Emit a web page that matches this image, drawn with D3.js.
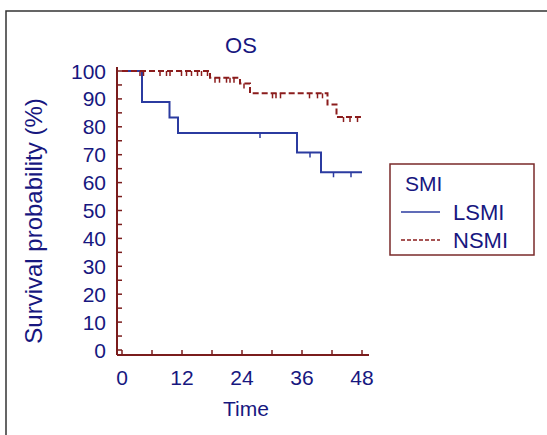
<!DOCTYPE html>
<html>
<head>
<meta charset="utf-8">
<script src="https://cdn.jsdelivr.net/npm/d3@7"></script>
<style>
  body { margin: 0; background: #fff; }
  text { font-family: "Liberation Sans", Arial, sans-serif; }
</style>
</head>
<body>
<script>
// Kaplan-Meier steps
var lsmiTime   = [0, 4, 9.5, 11.2, 35, 39.8, 48];
var lsmiSurv   = [100, 88.9, 83.3, 77.8, 70.8, 63.7, 63.7];
var lsmiCensor = [27.6, 37.6, 42.3, 45.8];

var nsmiTime   = [0, 17.6, 23.6, 25.6, 41.1, 42.9, 48];
var nsmiSurv   = [100, 97.6, 95.5, 92, 88, 83.5, 83.5];
var nsmiCensor = [3.6, 4.3, 7.6, 8.9, 9.6, 11.9, 12.9, 13.9, 15.1, 15.9, 17.1,
                  18.6, 19.5, 20.9, 21.6, 22.4, 24.4, 30.1, 30.8, 31.7, 37.5,
                  39.1, 40.1, 44.3, 45.6, 47.1];

var xTicks = [0, 12, 24, 36, 48];
var yTicks = [0, 10, 20, 30, 40, 50, 60, 70, 80, 90, 100];

var W = 547, H = 435;
var AXIS = "#7a1c1c", TEXT = "#17177f", BLUE = "#2b3ba0", RED = "#8b1c1c";

var svg = d3.select("body").append("svg").attr("width", W).attr("height", H);

// outer frame
svg.append("rect")
  .attr("x", 6).attr("y", 11).attr("width", W + 10).attr("height", H + 10)
  .attr("fill", "none").attr("stroke", "#333").attr("stroke-width", 1.5);

var x = d3.scaleLinear().domain([0, 48]).range([122, 362]);
var y = d3.scaleLinear().domain([0, 100]).range([350, 71]);

var axX = 117, axY = 355;

// axes lines
svg.append("line").attr("x1", axX).attr("x2", axX).attr("y1", 67).attr("y2", axY)
  .attr("stroke", AXIS).attr("stroke-width", 2);
svg.append("line").attr("x1", axX).attr("x2", 369).attr("y1", axY).attr("y2", axY)
  .attr("stroke", AXIS).attr("stroke-width", 2);

// y ticks (major + minor, pointing inward)
svg.append("g").selectAll("line")
  .data(d3.range(0, 101, 5))
  .enter().append("line")
  .attr("x1", axX).attr("x2", axX + 5)
  .attr("y1", d => y(d)).attr("y2", d => y(d))
  .attr("stroke", AXIS).attr("stroke-width", 1.5);

svg.append("g").selectAll("text")
  .data(yTicks)
  .enter().append("text")
  .attr("x", 106).attr("y", d => y(d))
  .attr("text-anchor", "end").attr("dominant-baseline", "central")
  .attr("fill", TEXT).style("font-size", "21px")
  .text(d => d);

// x ticks
svg.append("g").selectAll("line")
  .data(d3.range(0, 49, 6))
  .enter().append("line")
  .attr("x1", d => x(d)).attr("x2", d => x(d))
  .attr("y1", axY).attr("y2", axY - 5)
  .attr("stroke", AXIS).attr("stroke-width", 1.5);

svg.append("g").selectAll("text")
  .data(xTicks)
  .enter().append("text")
  .attr("x", d => x(d)).attr("y", 385)
  .attr("text-anchor", "middle")
  .attr("fill", TEXT).style("font-size", "21px")
  .text(d => d);

// titles
svg.append("text").attr("x", 241).attr("y", 53).attr("text-anchor", "middle")
  .attr("fill", TEXT).style("font-size", "22px").text("OS");
svg.append("text").attr("x", 246).attr("y", 416).attr("text-anchor", "middle")
  .attr("fill", TEXT).style("font-size", "21px").text("Time");
svg.append("text")
  .attr("transform", "translate(42,221) rotate(-90)")
  .attr("text-anchor", "middle")
  .attr("fill", TEXT).style("font-size", "24px").text("Survival probability (%)");

// curves
var line = d3.line().curve(d3.curveStepAfter)
  .x(d => x(d[0])).y(d => y(d[1]));

function survAt(times, surv, t) {
  var i = d3.bisectRight(times, t) - 1;
  return surv[Math.max(0, i)];
}

function drawCurve(times, surv, censor, color, dash) {
  var g = svg.append("g");
  g.append("path")
    .attr("d", line(d3.zip(times, surv)))
    .attr("fill", "none").attr("stroke", color).attr("stroke-width", 2)
    .attr("stroke-dasharray", dash);
  g.selectAll("line")
    .data(censor)
    .enter().append("line")
    .attr("x1", d => x(d)).attr("x2", d => x(d))
    .attr("y1", d => y(survAt(times, surv, d)))
    .attr("y2", d => y(survAt(times, surv, d)) + 5)
    .attr("stroke", color).attr("stroke-width", 1.5);
}

drawCurve(lsmiTime, lsmiSurv, lsmiCensor, BLUE, null);
drawCurve(nsmiTime, nsmiSurv, nsmiCensor, RED, "6,3");

// legend
var leg = svg.append("g");
leg.append("rect").attr("x", 390).attr("y", 164).attr("width", 144).attr("height", 91)
  .attr("fill", "#fff").attr("stroke", "#7a2a2a").attr("stroke-width", 1.5);
leg.append("text").attr("x", 405).attr("y", 191).attr("fill", TEXT)
  .style("font-size", "21px").text("SMI");
leg.append("line").attr("x1", 401).attr("x2", 440).attr("y1", 212).attr("y2", 212)
  .attr("stroke", BLUE).attr("stroke-width", 1.5);
leg.append("text").attr("x", 453).attr("y", 220).attr("fill", TEXT)
  .style("font-size", "22px").text("LSMI");
leg.append("line").attr("x1", 401).attr("x2", 440).attr("y1", 240).attr("y2", 240)
  .attr("stroke", RED).attr("stroke-width", 1.5).attr("stroke-dasharray", "4,2");
leg.append("text").attr("x", 453).attr("y", 248).attr("fill", TEXT)
  .style("font-size", "22px").text("NSMI");
</script>
</body>
</html>
